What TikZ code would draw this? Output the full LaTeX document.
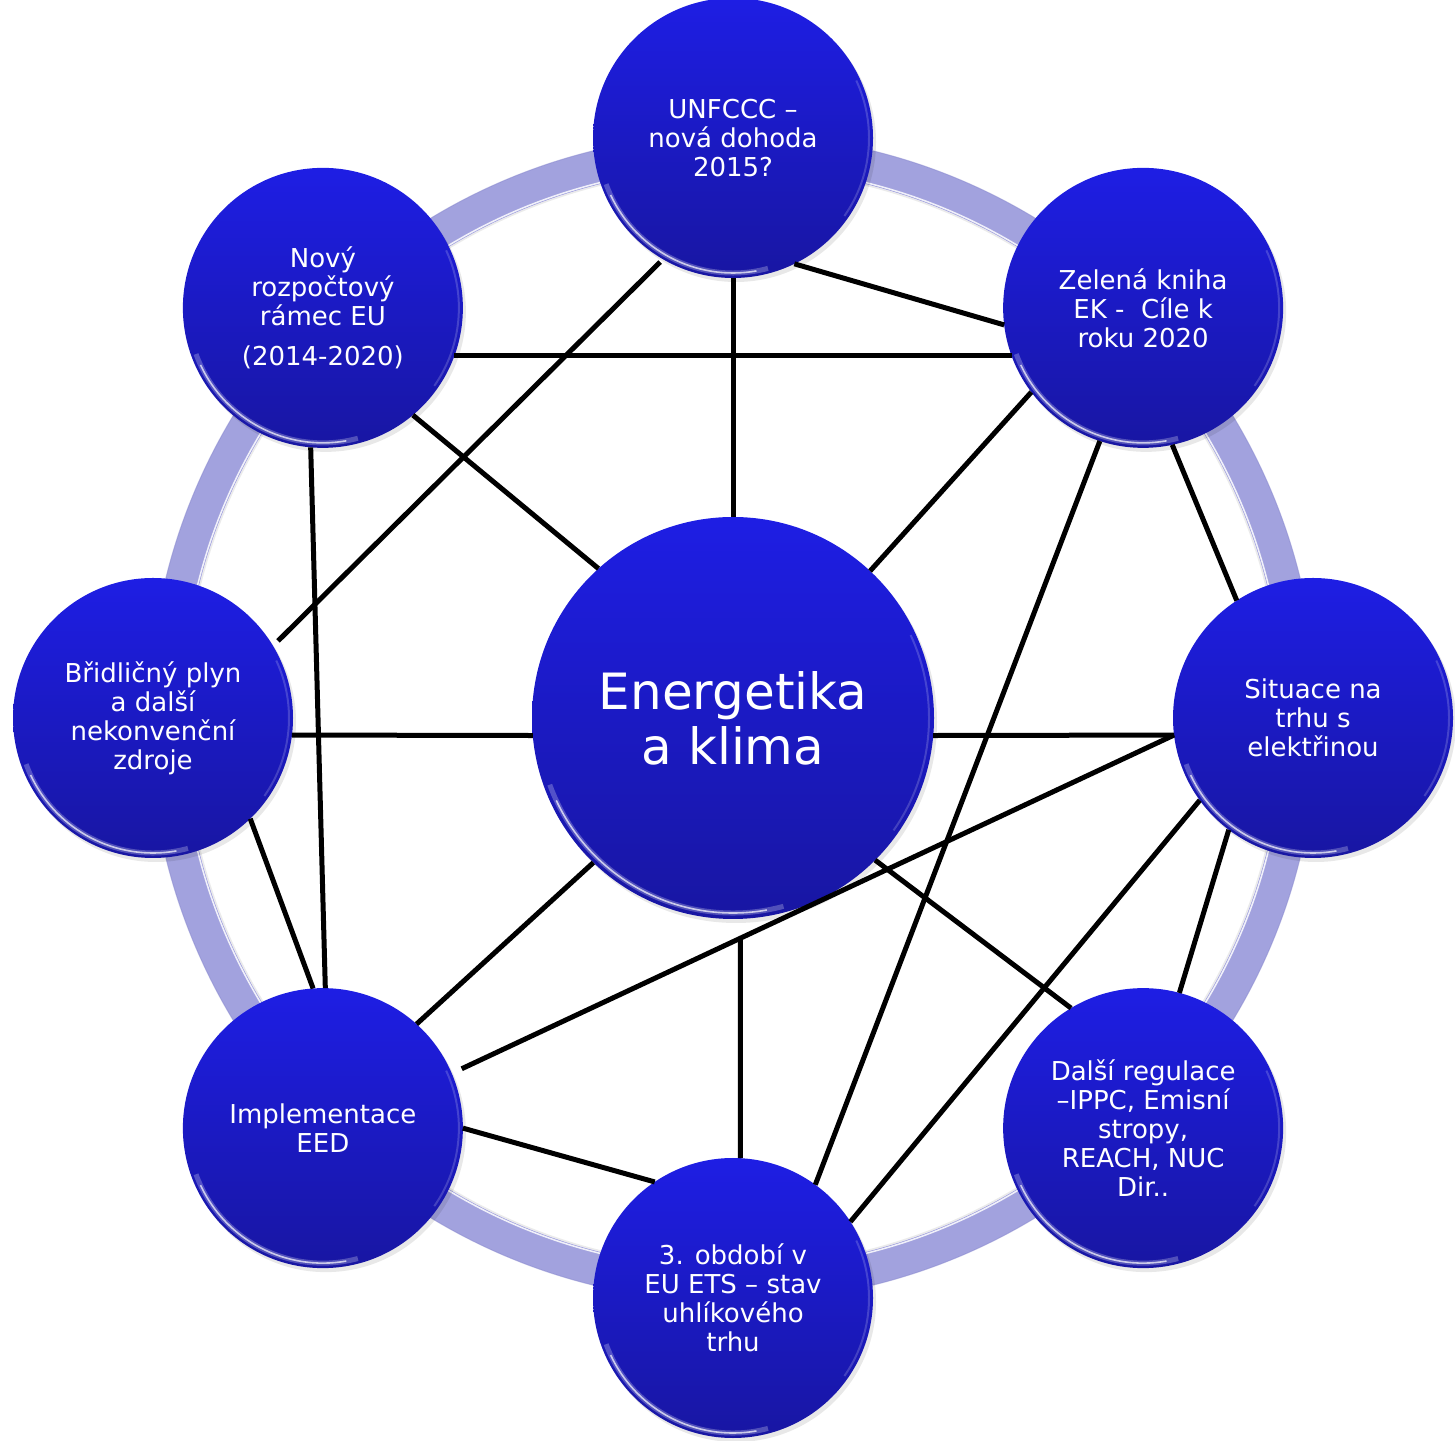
\documentclass[tikz,border=0pt]{standalone}
\usepackage{fontspec}
\setmainfont{DejaVu Sans}
\usetikzlibrary{calc,shadows}
\definecolor{nodetop}{RGB}{30,30,228}
\definecolor{nodebot}{RGB}{24,22,162}
\definecolor{ringc}{RGB}{162,162,222}
\definecolor{ringedge}{RGB}{135,135,205}
\tikzset{
  bubble/.style={circle, inner sep=0pt, outer sep=0pt, minimum size=280pt,
    top color=nodetop, bottom color=nodebot, text=white, align=center,
    font=\fontsize{26}{29}\selectfont,
    drop shadow={shadow xshift=3pt, shadow yshift=-4pt, opacity=0.09, fill=black}},
  bigbubble/.style={bubble, minimum size=402pt, font=\fontsize{50}{55}\selectfont},
  link/.style={line width=5pt, black},
}
\newcommand\rimhl[2]{%
  \draw[white, opacity=0.25, line width=5pt] ([shift={(200:#2)}]#1.center) arc[start angle=200, end angle=285, radius=#2];
  \draw[white, opacity=0.7, line width=1.6pt] ([shift={(205:#2)}]#1.center) arc[start angle=205, end angle=280, radius=#2];
  \draw[white, opacity=0.18, line width=2pt] ([shift={(-35:#2+1)}]#1.center) arc[start angle=-35, end angle=25, radius=#2+1];}
\begin{document}
\begin{tikzpicture}[x=1pt,y=1pt]
\path[use as bounding box] (0,0) rectangle (1455,1440);
\coordinate (O) at (733,722);
% ring
\draw[ringc, line width=34pt] (O) circle[radius=567];
\draw[ringedge, line width=1pt, opacity=0.5] (O) circle[radius=584];
\draw[white, line width=1.5pt, opacity=0.85] (O) circle[radius=551.5];
\draw[black, line width=1.5pt, opacity=0.08] (O) circle[radius=549];
% nodes
\node[bigbubble] (C) at (O) {Energetika\\a klima};
\node[bubble] (U) at ($(O)+(90:580)$) {UNFCCC –\\nová dohoda\\2015?};
\node[bubble] (Z) at ($(O)+(45:580)$) {Zelená kniha\\EK -\ \ Cíle k\\roku 2020};
\node[bubble] (S) at ($(O)+(0:580)$) {Situace na\\trhu s\\elektřinou};
\node[bubble] (D) at ($(O)+(-45:580)$) {Další regulace\\–IPPC, Emisní\\stropy,\\REACH, NUC\\Dir..};
\node[bubble] (T) at ($(O)+(-90:580)$) {3. období v\\EU ETS – stav\\uhlíkového\\trhu};
\node[bubble] (I) at ($(O)+(-135:580)$) {Implementace\\EED};
\node[bubble] (B) at ($(O)+(180:580)$) {Břidličný plyn\\a další\\nekonvenční\\zdroje};
\node[bubble] (N) at ($(O)+(135:580)$) {Nový\\rozpočtový\\rámec EU\\[11pt](2014-2020)};
% rim highlights
\rimhl{C}{195}
\foreach \n in {U,Z,S,D,T,I,B,N} {\rimhl{\n}{135}}
% connectors
\draw[link] (U.-64) -- (Z.-173);
\draw[link] (N.-20) -- (Z.-160);
\draw[link] (U.-90) -- (C.90);
\draw[link, shorten <=4pt, shorten >=7pt] (U.-120) -- (B.31);
\draw[link] (N.-50) -- (C.132);
\draw[link] (N.-95) -- (I.89);
\draw[link] (Z.-143) -- (C.47);
\draw[link] (Z.-108) -- (T.54);
\draw[link] (Z.-78) -- (S.123);
\draw[link] (B.-7) -- (C.-175);
\draw[link] (B.-46) -- (I.94);
\draw[link] (C.-5) -- (S.-173);
\coordinate (s1) at (S.-173);
\coordinate (i1) at (I.23);
\draw[link, shorten >=11pt] (s1) -- (i1);
\draw[link] (S.-144) -- (T.33);
\draw[link] (S.-127) -- (D.75);
\draw[link] (C.-45) -- (D.121);
\draw[link] (C.-134) -- (I.48);
\coordinate (t1) at (T.87);
\coordinate (t2) at ($(T.87)+(0,600)$);
\draw[link] (t1) -- (intersection of s1--i1 and t1--t2);
\draw[link] (I.0) -- (T.124);
\end{tikzpicture}
\end{document}
